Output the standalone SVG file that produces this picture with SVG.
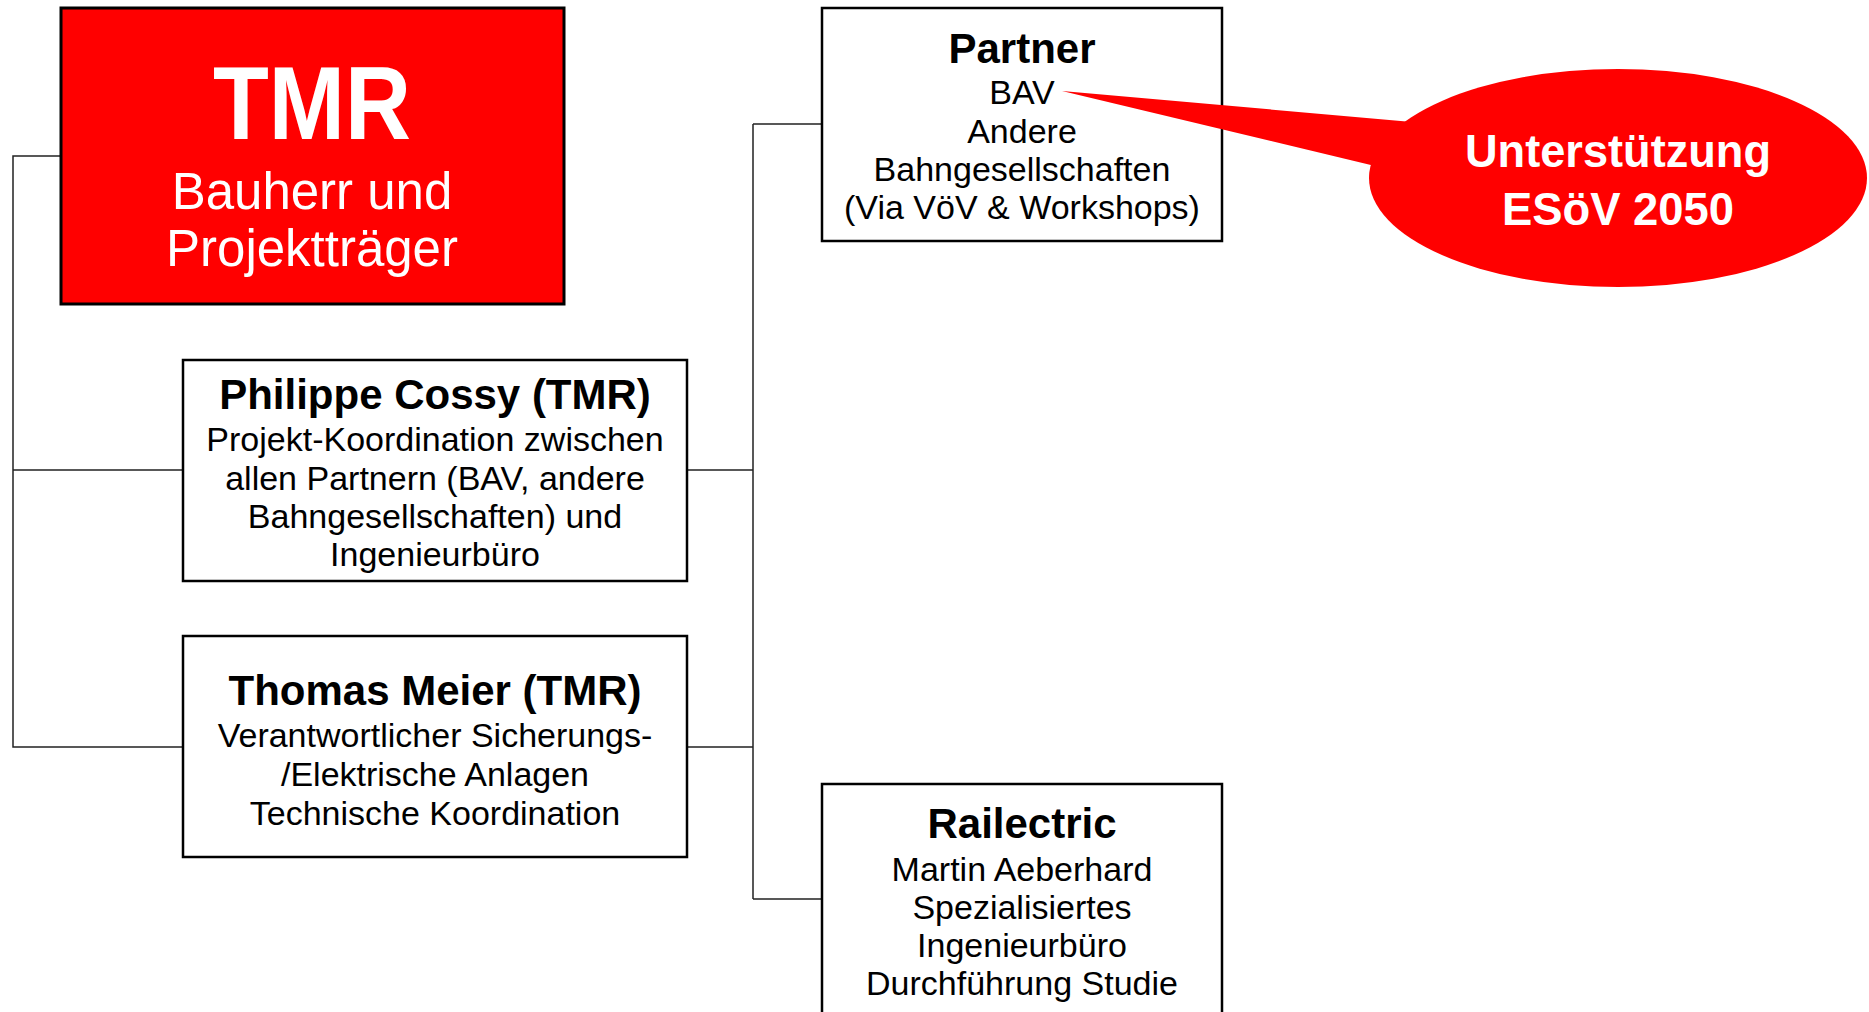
<svg xmlns="http://www.w3.org/2000/svg" width="1869" height="1012" viewBox="0 0 1869 1012">
<style>
.box{fill:#fff;stroke:#000;stroke-width:2.5}
.red{fill:#ff0000}
.conn{fill:none;stroke:#222;stroke-width:1.5}
.t{font-family:"Liberation Sans",Arial,sans-serif;text-anchor:middle;fill:#000}
.title{font-size:42px;font-weight:bold}
.body{font-size:34px}
.w{fill:#fff}
</style>
<rect width="1869" height="1012" fill="#fff"/>
<g id="connectors">
<path class="conn" d="M61,156 H13 V747 H182 M13,470 H182"/>
<path class="conn" d="M687,470 H753 M687,747 H753 M753,124 V899 M753,124 H821 M753,899 H821"/>
</g>
<g id="tmr">
<rect x="61" y="8" width="503" height="296" class="red" stroke="#000" stroke-width="3"/>
<text class="t w" x="312" y="139" font-size="104" font-weight="bold" textLength="198" lengthAdjust="spacingAndGlyphs">TMR</text>
<text class="t w" x="312" y="209" font-size="51">Bauherr und</text>
<text class="t w" x="312" y="266" font-size="51">Projektträger</text>
</g>
<g id="philippe">
<rect class="box" x="183" y="360" width="504" height="221"/>
<text class="t title" x="435" y="409">Philippe Cossy (TMR)</text>
<text class="t body" x="435" y="451">Projekt-Koordination zwischen</text>
<text class="t body" x="435" y="490">allen Partnern (BAV, andere</text>
<text class="t body" x="435" y="528">Bahngesellschaften) und</text>
<text class="t body" x="435" y="566">Ingenieurbüro</text>
</g>
<g id="thomas">
<rect class="box" x="183" y="636" width="504" height="221"/>
<text class="t title" x="435" y="705">Thomas Meier (TMR)</text>
<text class="t body" x="435" y="747">Verantwortlicher Sicherungs-</text>
<text class="t body" x="435" y="786">/Elektrische Anlagen</text>
<text class="t body" x="435" y="825">Technische Koordination</text>
</g>
<g id="partner">
<rect class="box" x="822" y="8" width="400" height="233"/>
<text class="t title" x="1022" y="63">Partner</text>
<text class="t body" x="1022" y="104">BAV</text>
<text class="t body" x="1022" y="143">Andere</text>
<text class="t body" x="1022" y="181">Bahngesellschaften</text>
<text class="t body" x="1022" y="219">(Via VöV &amp; Workshops)</text>
</g>
<g id="railectric">
<rect class="box" x="822" y="784" width="400" height="240"/>
<text class="t title" x="1022" y="838">Railectric</text>
<text class="t body" x="1022" y="881">Martin Aeberhard</text>
<text class="t body" x="1022" y="919">Spezialisiertes</text>
<text class="t body" x="1022" y="957">Ingenieurbüro</text>
<text class="t body" x="1022" y="995">Durchführung Studie</text>
</g>
<g id="callout">
<polygon class="red" points="1062,91 1412,122 1375,166"/>
<ellipse class="red" cx="1618" cy="178" rx="249" ry="109"/>
<text class="t w" x="1618" y="167" font-size="46" font-weight="bold" textLength="306" lengthAdjust="spacingAndGlyphs">Unterstützung</text>
<text class="t w" x="1618" y="225" font-size="46" font-weight="bold" textLength="232" lengthAdjust="spacingAndGlyphs">ESöV 2050</text>
</g>
</svg>
